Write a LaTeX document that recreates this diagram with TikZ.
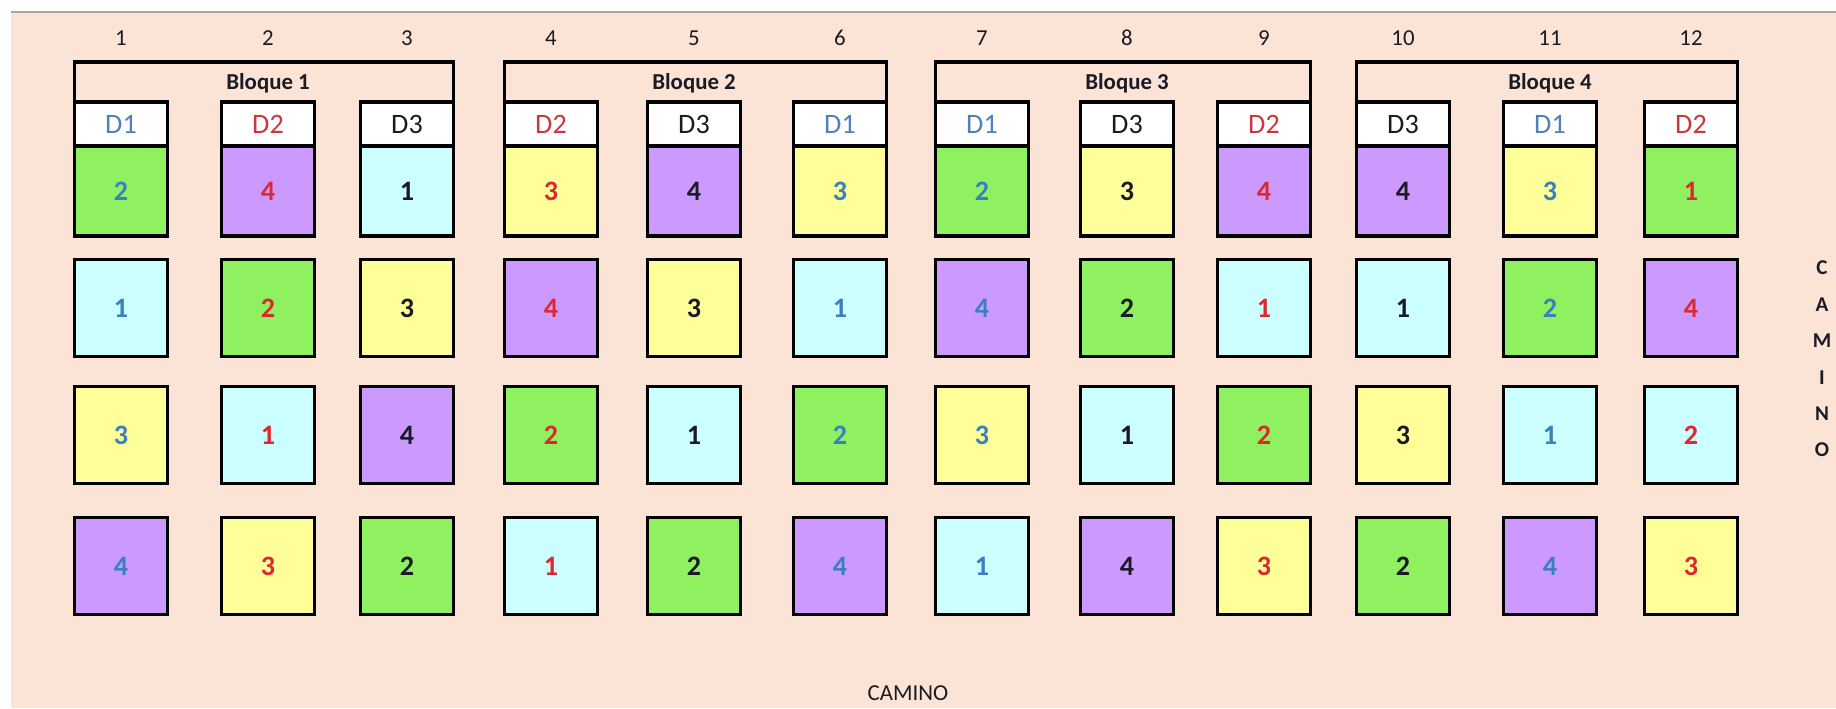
\documentclass[tikz,border=0pt]{standalone}
\usepackage{fontspec}
\setmainfont{Carlito}

\definecolor{peach}{HTML}{FBE3D6}
\definecolor{t1}{HTML}{CCFFFF}
\definecolor{t2}{HTML}{8FF060}
\definecolor{t3}{HTML}{FFFF99}
\definecolor{t4}{HTML}{CC99FF}
\definecolor{d1}{HTML}{3A7FC0}
\definecolor{d2}{HTML}{DC2830}
\definecolor{d3}{HTML}{1B1B24}
\definecolor{h1}{HTML}{4F81BD}
\definecolor{h2}{HTML}{C8383C}
\definecolor{h3}{HTML}{1B1B24}

\begin{document}
\begin{tikzpicture}[
    x=0.02cm, y=-0.02cm,
    plot/.style={rectangle, draw, line width=2.2pt, outer sep=0pt, inner sep=0pt, minimum width=1.86cm, minimum height=1.94cm, font=\fontsize{16}{18}\selectfont\bfseries},
    head/.style={rectangle, draw, line width=2.2pt, outer sep=0pt, inner sep=0pt, fill=white, minimum width=1.86cm, minimum height=0.88cm, font=\fontsize{16}{18}\selectfont},
    colnum/.style={font=\fontsize{13}{15}\selectfont, text=d3},
    bloque/.style={font=\fontsize{13}{15}\selectfont\bfseries, text=d3},
    frame/.style={line width=2.2pt, line join=miter},
    camino/.style={font=\fontsize{13}{15}\selectfont, text=d3}
]
    % background and top rule
    \useasboundingbox (0,0) rectangle (1836,708);
    \fill[peach] (11,13) rectangle (1836,708);
    \draw[black!35, line width=1pt] (11,12) -- (1836,12);

    % column / treatment / rows 1-4 (value, then fill)
    \foreach \c/\x/\d/\ra/\rb/\rc/\rd/\fa/\fb/\fc/\fd in {
            1/121/1/2/1/3/4/2/1/3/4,     2/268/2/4/2/1/3/4/2/1/3,     3/407/3/1/3/4/2/1/3/4/2,
            4/551/2/3/4/2/1/3/4/2/1,     5/694/3/4/3/1/2/4/3/1/2,     6/840/1/3/1/2/4/3/1/2/4,
            7/982/1/2/4/3/1/2/4/3/1,     8/1127/3/3/2/1/4/3/2/1/4,    9/1264/2/4/1/2/3/4/1/2/3,
            10/1403/3/4/1/3/2/4/1/3/2,   11/1550/1/3/2/1/4/3/2/1/4,   12/1691/2/1/4/2/3/2/4/1/3} {
        \node[colnum] (n\c) at (\x,38) {\c};
        \node[head, text=h\d] (hd\c) at (\x,124) {D\d};
        \node[plot, fill=t\fa, text=d\d, minimum height=1.8cm] (p\c-1) at (\x,191) {\ra};
        \node[plot, fill=t\fb, text=d\d] (p\c-2) at (\x,308) {\rb};
        \node[plot, fill=t\fc, text=d\d] (p\c-3) at (\x,435) {\rc};
        \node[plot, fill=t\fd, text=d\d] (p\c-4) at (\x,566) {\rd};
    }

    % blocks
    \foreach \b/\l/\m/\r in {1/1/2/3, 2/4/5/6, 3/7/8/9, 4/10/11/12} {
        \node[bloque] (bq\b) at (hd\m |- 0,83) {Bloque \b};
        \draw[frame] (hd\l.north west) -- (hd\l.north west |- 0,62) -- (hd\r.north east |- 0,62) -- (hd\r.north east);
    }

    % paths
    \node[camino] (camino-s) at (908,693) {CAMINO};
    \node[camino, font=\fontsize{12}{20.7}\selectfont\bfseries, align=center] (camino-e) at (1822,359) {C\\A\\M\\I\\N\\O};
\end{tikzpicture}
\end{document}
